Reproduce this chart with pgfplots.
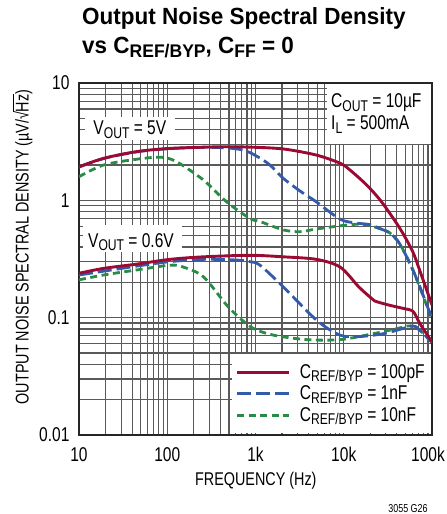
\documentclass[border=0pt]{standalone}
\usepackage{fontspec}
\setmainfont{Liberation Sans}[FakeStretch=0.78]
\newfontfamily\titlefont{Liberation Sans}[FakeStretch=0.96]
\usepackage{graphicx}
\usepackage{pgfplots}
\pgfplotsset{compat=1.18}

\definecolor{cred}{RGB}{155,10,50}
\definecolor{cblue}{RGB}{52,90,170}
\definecolor{cgreen}{RGB}{40,140,70}
\definecolor{cgrid}{RGB}{90,90,90}

\newcommand\sub[1]{\raisebox{-0.17em}{\scalebox{0.78}{#1}}}
\newcommand\fsz[1]{\fontsize{#1}{#1}\selectfont}

\begin{document}
\begin{tikzpicture}
\useasboundingbox (-79bp,-79bp) rectangle (368bp,435bp);
\begin{axis}[
  at={(0,0)}, anchor=south west,
  scale only axis, width=353bp, height=352bp,
  xmode=log, ymode=log,
  xmin=10, xmax=100000, ymin=0.01, ymax=10,
  xtick={10,100,1000,10000,100000},
  xticklabels={10,100,1k,10k,\kern-8bp 100k},
  ytick={0.01,0.1,1,10},
  yticklabels={0.01,0.1,1,10},
  minor xtick={20,30,40,50,60,70,80,90,200,300,400,500,600,700,800,900,
    2000,3000,4000,5000,6000,7000,8000,9000,20000,30000,40000,50000,60000,70000,80000,90000},
  minor ytick={0.02,0.03,0.04,0.05,0.06,0.07,0.08,0.09,0.2,0.3,0.4,0.5,0.6,0.7,0.8,0.9,
    2,3,4,5,6,7,8,9},
  grid=both,
  major grid style={cgrid, line width=1.15bp},
  minor grid style={cgrid, line width=1.15bp},
  axis line style={black!85, line width=1.4bp},
  major tick length=0pt, minor tick length=0pt,
  /pgf/number format/assume math mode=true,
  ticklabel style={font=\fsz{20}},
  xticklabel style={yshift=-9bp},
  yticklabel style={xshift=-6bp},
  xlabel={FREQUENCY (Hz)},
  xlabel style={font=\fsz{18.5}, at={(axis description cs:0.501,-0.1307)}, anchor=center},
  ylabel={OUTPUT NOISE SPECTRAL DENSITY (µV/√\kern-0.03em\rlap{\rule[0.80em]{0.97em}{0.06em}}Hz)},
  ylabel style={font=\fsz{18.5}, at={(axis description cs:-0.160,0.534)}, anchor=center},
  reverse legend,
  legend cell align=left,
  legend image code/.code={\draw[#1] (0bp,0bp) -- (52bp,0bp);},
  legend style={at={(0.997,0.004)}, anchor=south east, draw=none, fill=white,
    inner xsep=4bp, inner ysep=10bp, row sep=5bp, font=\fsz{20},
    nodes={inner ysep=0.5bp},
    /tikz/every odd column/.append style={column sep=7bp}},
]
% white label boxes over the grid
\fill[white] (rel axis cs:0.017,0.838) rectangle (rel axis cs:0.272,0.9034);
\node[anchor=base west, inner sep=0pt, font=\fsz{20}] at (rel axis cs:0.0405,0.8523) {V\sub{OUT} = 5V};
\fill[white] (rel axis cs:0.0113,0.5199) rectangle (rel axis cs:0.2918,0.5966);
\node[anchor=base west, inner sep=0pt, font=\fsz{20}] at (rel axis cs:0.0255,0.534) {V\sub{OUT} = 0.6V};
\fill[white] (rel axis cs:0.7025,0.8267) rectangle (rel axis cs:0.9965,0.9965);
\node[anchor=base west, inner sep=0pt, font=\fsz{20}] at (rel axis cs:0.714,0.929) {C\sub{OUT} = 10µF};
\node[anchor=base west, inner sep=0pt, font=\fsz{20}] at (rel axis cs:0.714,0.8665) {I\sub{L} = 500mA};

% C_REF/BYP = 10nF
\addplot[cgreen, line width=2.8bp, dash pattern=on 7bp off 4.5bp, smooth] coordinates {
  (10,1.59) (19,2.0) (45,2.24) (85,2.33) (128,2.13) (257,1.49) (471,0.97)
  (866,0.70) (1125,0.66) (2066,0.56) (3200,0.54) (4900,0.57) (11800,0.62)
  (18000,0.62) (28000,0.56) (33000,0.53) (40000,0.46) (47000,0.38)
  (60000,0.26) (73000,0.18) (100000,0.097)};
\addlegendentry{C\sub{REF/BYP} = 10nF}
\addplot[cgreen, line width=2.8bp, dash pattern=on 7bp off 4.5bp, smooth, forget plot] coordinates {
  (10,0.21) (19,0.231) (45,0.255) (107,0.28) (152,0.27) (257,0.223) (471,0.128)
  (667,0.099) (944,0.081) (1590,0.071) (3800,0.065) (9100,0.065) (21600,0.073)
  (41000,0.081) (56000,0.085) (73000,0.078) (100000,0.061)};
% C_REF/BYP = 1nF
\addplot[cblue, line width=2.8bp, dash pattern=on 14bp off 5bp, smooth] coordinates {
  (10,1.92) (19,2.27) (45,2.59) (107,2.76) (300,2.83) (600,2.75) (866,2.55)
  (1400,2.05) (2066,1.54) (3200,1.2) (4900,0.97) (9100,0.69) (14000,0.64)
  (19800,0.62) (28000,0.56) (33000,0.53) (40000,0.46) (47000,0.38)
  (60000,0.26) (73000,0.183) (100000,0.098)};
\addlegendentry{C\sub{REF/BYP} = 1nF}
\addplot[cblue, line width=2.8bp, dash pattern=on 14bp off 5bp, smooth, forget plot] coordinates {
  (10,0.231) (45,0.275) (107,0.30) (257,0.314) (609,0.31) (866,0.30) (1125,0.28)
  (2066,0.183) (4934,0.095) (9076,0.071) (14800,0.069) (28000,0.073)
  (47000,0.081) (56000,0.085) (65000,0.084) (73000,0.078) (100000,0.062)};
% C_REF/BYP = 100pF
\addplot[cred, line width=2.9bp, smooth] coordinates {
  (10,1.93) (19,2.28) (45,2.6) (107,2.77) (400,2.86) (870,2.84) (2070,2.74)
  (4900,2.43) (9100,2.07) (11800,1.81) (18200,1.35) (26000,1.0) (36500,0.70)
  (47000,0.52) (61000,0.36) (73000,0.25) (100000,0.128)};
\addlegendentry{C\sub{REF/BYP} = 100pF}
\addplot[cred, line width=2.9bp, smooth, forget plot] coordinates {
  (10,0.239) (19,0.263) (45,0.286) (107,0.314) (257,0.33) (870,0.34) (2070,0.33)
  (4900,0.314) (9100,0.27) (14800,0.183) (19800,0.15) (22300,0.139)
  (32500,0.128) (47000,0.12) (61000,0.113) (73000,0.089) (100000,0.062)};
\end{axis}
\node[anchor=base west, inner sep=0pt, font=\titlefont\bfseries\fsz{23.5}] at (3bp,410bp) {Output Noise Spectral Density};
\node[anchor=base west, inner sep=0pt, font=\titlefont\bfseries\fsz{23.5}] at (3bp,381bp) {vs C\sub{REF/BYP}, C\sub{FF} = 0};
\node[inner sep=0pt, font=\fsz{11.5}] at (329bp,-74bp) {3055 G26};
\end{tikzpicture}
\end{document}
